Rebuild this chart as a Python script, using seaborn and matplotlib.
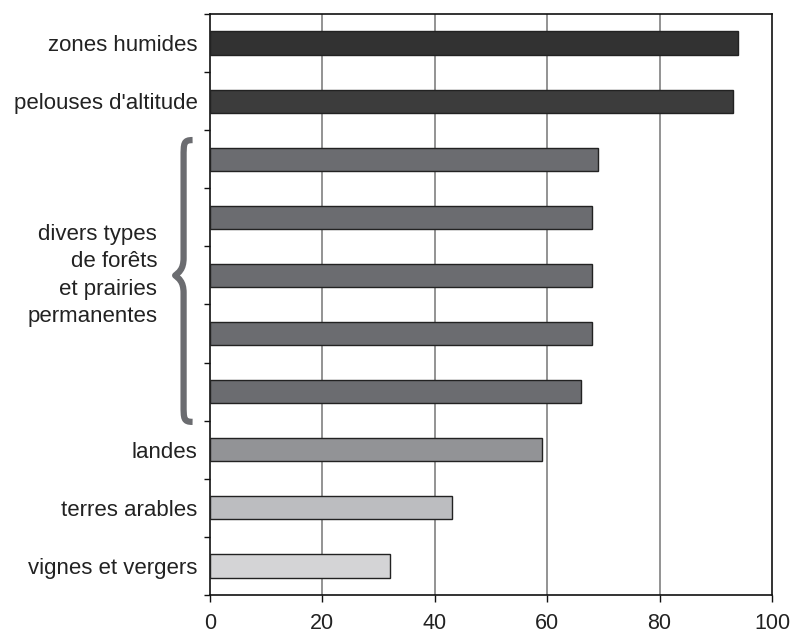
import numpy as np
import pandas as pd
import seaborn as sns
import matplotlib.pyplot as plt
from matplotlib.path import Path
from matplotlib.patches import PathPatch
import matplotlib.transforms as mtransforms

# data
keys = ['zones humides', "pelouses d'altitude", 'foret1', 'foret2', 'foret3',
        'foret4', 'foret5', 'landes', 'terres arables', 'vignes et vergers']
labels = ['zones humides', "pelouses d'altitude", '', '', '', '', '',
          'landes', 'terres arables', 'vignes et vergers']
values = [94, 93, 69, 68, 68, 68, 66, 59, 43, 32]
colors = ['#323232', '#3c3c3c', '#6b6c70', '#6b6c70', '#6b6c70', '#6b6c70',
          '#6b6c70', '#929396', '#bcbdc0', '#d4d4d6']
group_label = 'divers types\nde forêts\net prairies\npermanentes'

sns.set_style('white')
plt.rcParams['font.family'] = ['Liberation Sans', 'DejaVu Sans']

df = pd.DataFrame({'key': keys, 'value': values})

fig = plt.figure(figsize=(7.94, 6.34), dpi=100)
ax = fig.add_axes([210 / 794, 1 - 595 / 634, 562 / 794, 581 / 634])

sns.barplot(data=df, x='value', y='key', hue='key', palette=colors,
            legend=False, width=0.4, saturation=1, edgecolor='#222222',
            linewidth=1, ax=ax, zorder=3)

ax.set_xlim(0, 100)
ax.set_ylim(9.5, -0.5)
ax.set_xticks([0, 20, 40, 60, 80, 100])
ax.set_xticklabels(['0', '20', '40', '60', '80', '100'])
ax.set_yticks(range(len(keys)))
ax.set_yticklabels(labels)
ax.set_yticks(np.arange(-0.5, len(keys), 1), minor=True)
ax.set_xlabel('')
ax.set_ylabel('')

for x in [20, 40, 60, 80]:
    ax.axvline(x, color='#808080', lw=1.2, zorder=1)

for s in ax.spines.values():
    s.set_visible(True)
    s.set_color('#111111')
    s.set_linewidth(1.2)

ax.tick_params(axis='y', which='major', length=0, pad=9, labelsize=16,
               labelcolor='#222222')
ax.tick_params(axis='y', which='minor', length=4, width=1, direction='out',
               color='#111111', left=True)
ax.tick_params(axis='x', which='major', length=5, width=1, direction='out',
               color='#111111', pad=8, labelsize=15.5, labelcolor='#222222',
               bottom=True)

# group label + brace, x in axes fraction, y in data
trans = mtransforms.blended_transform_factory(ax.transAxes, ax.transData)
ax.text(-0.094, 4.0, group_label, transform=trans, ha='right', va='center',
        fontsize=16, color='#222222', linespacing=1.4)

xe, xb, xt = -0.031, -0.047, -0.062
y0, ym, y1 = 1.67, 4.0, 6.52
verts = [(xe, y0),
         (xb, y0), (xb, y0 + 0.05), (xb, y0 + 0.3),
         (xb, ym - 0.3),
         (xb, ym - 0.1), (xt + 0.006, ym - 0.05), (xt, ym),
         (xt + 0.006, ym + 0.05), (xb, ym + 0.1), (xb, ym + 0.3),
         (xb, y1 - 0.3),
         (xb, y1 - 0.05), (xb, y1), (xe, y1)]
codes = [Path.MOVETO,
         Path.CURVE4, Path.CURVE4, Path.CURVE4,
         Path.LINETO,
         Path.CURVE4, Path.CURVE4, Path.CURVE4,
         Path.CURVE4, Path.CURVE4, Path.CURVE4,
         Path.LINETO,
         Path.CURVE4, Path.CURVE4, Path.CURVE4]
brace = PathPatch(Path(verts, codes), transform=trans, fill=False,
                  edgecolor='#6b6c70', lw=4.5, capstyle='butt',
                  joinstyle='round', clip_on=False)
ax.add_patch(brace)

fig.savefig('out.png', dpi=100)
